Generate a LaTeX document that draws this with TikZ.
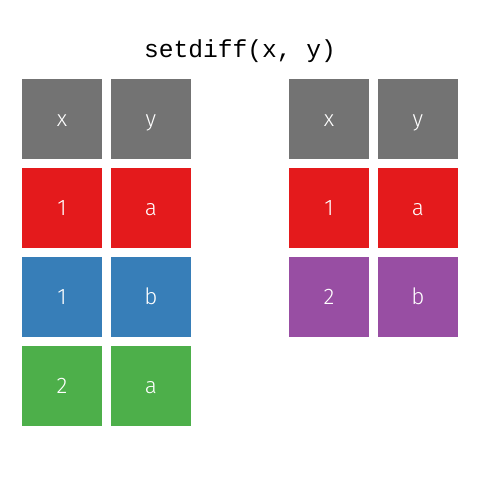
\documentclass[tikz,border=0pt]{standalone}
\usepackage{fontspec}
\setmainfont{Fira Sans Light}
\setmonofont{Liberation Mono}
\usetikzlibrary{positioning}
\definecolor{cellgray}{HTML}{737373}
\definecolor{cellred}{HTML}{E41A1C}
\definecolor{cellblue}{HTML}{377EB8}
\definecolor{cellgreen}{HTML}{4DAF4A}
\definecolor{cellpurple}{HTML}{984EA3}
\tikzset{
  cell/.style={
    minimum size=2cm,
    inner sep=0pt,
    text height=10pt,
    text depth=0pt,
    text=white,
    font=\fontsize{16}{16}\selectfont
  }
}

\begin{document}
\begin{tikzpicture}[x=0.025cm, y=-0.025cm]
  \useasboundingbox (0,0) rectangle (480,480);

  % Title
  \node[font=\ttfamily\fontsize{17.5}{17.5}\selectfont] (title) at (240,51) {setdiff(x, y)};

  % Left table
  \foreach \a/\b/\c [count=\r] in {x/y/cellgray, 1/a/cellred, 1/b/cellblue, 2/a/cellgreen} {
    \node[cell, fill=\c] (l\r a) at (62,{119+89*(\r-1)}) {\a};
    \node[cell, fill=\c] (l\r b) at (151,{119+89*(\r-1)}) {\b};
  }

  % Result table
  \foreach \a/\b/\c [count=\r] in {x/y/cellgray, 1/a/cellred, 2/b/cellpurple} {
    \node[cell, fill=\c] (r\r a) at (329,{119+89*(\r-1)}) {\a};
    \node[cell, fill=\c] (r\r b) at (418,{119+89*(\r-1)}) {\b};
  }
\end{tikzpicture}
\end{document}
